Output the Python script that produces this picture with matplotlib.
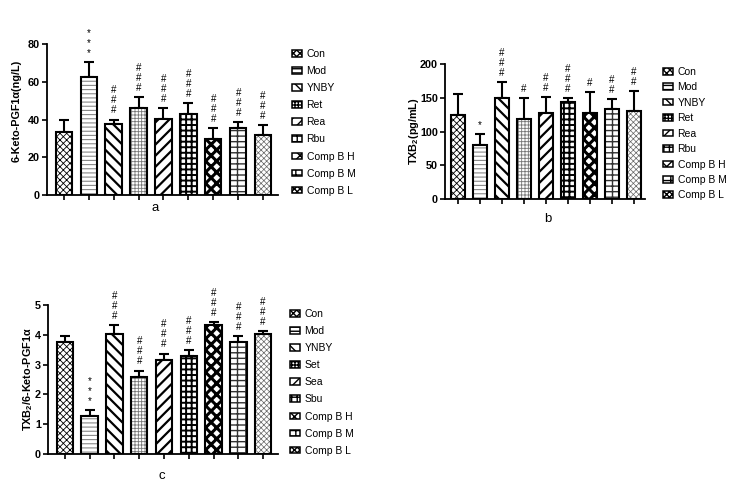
import numpy as np
import matplotlib
matplotlib.use("Agg")
import matplotlib.pyplot as plt
from matplotlib.patches import Patch

plt.rcParams["font.family"] = ["Liberation Sans", "DejaVu Sans"]
plt.rcParams["mathtext.fontset"] = "custom"
plt.rcParams["mathtext.rm"] = "Liberation Sans"
plt.rcParams["mathtext.bf"] = "Liberation Sans:bold"

groups_ab = ["Con", "Mod", "YNBY", "Ret", "Rea", "Rbu", "Comp B H", "Comp B M", "Comp B L"]
groups_c = ["Con", "Mod", "YNBY", "Set", "Sea", "Sbu", "Comp B H", "Comp B M", "Comp B L"]

keto_mean = [33.5, 62.5, 37.5, 46, 40.5, 43, 29.5, 35.5, 32]
keto_sem = [6.5, 8, 2.5, 6, 5.5, 5.5, 6, 3, 5]
keto_marks = ["", "***", "###", "###", "###", "###", "###", "###", "###"]

txb_mean = [125, 80, 150, 119, 128, 143, 127, 133, 130]
txb_sem = [30, 16, 23, 30, 23, 7, 32, 15, 30]
txb_marks = ["", "*", "###", "#", "##", "###", "#", "##", "##"]

ratio_mean = [3.75, 1.28, 4.02, 2.6, 3.17, 3.3, 4.33, 3.75, 4.02]
ratio_sem = [0.21, 0.19, 0.3, 0.2, 0.2, 0.2, 0.1, 0.21, 0.1]
ratio_marks = ["", "***", "###", "###", "###", "###", "###", "###", "###"]

# hatch, hatch colour, hatch line width
styles = [
    ("xxxxx", "black", 0.6),
    ("----", "#888888", 0.8),
    ("\\\\\\", "black", 1.6),
    ("+++++", "#777777", 0.6),
    ("///", "black", 1.6),
    ("+++", "black", 1.4),
    ("xxx", "black", 2.2),
    ("---||", "#333333", 1.0),
    ("xxxxxx", "#666666", 0.5),
]


def hatched(artist, lw):
    if hasattr(artist, "set_hatch_linewidth"):
        artist.set_hatch_linewidth(lw)


def panel(ax, mean, sem, marks, ymax, yticks, ylabel, lab_xy):
    x = np.arange(len(mean))
    w = 0.66
    for i in x:
        h, c, lw = styles[i]
        with plt.rc_context({"hatch.linewidth": lw}):
            b = ax.bar(i, mean[i], w, color="white", edgecolor=c, hatch=h, linewidth=0, zorder=2)
            hatched(b[0], lw)
    ax.bar(x, mean, w, fill=False, edgecolor="black", linewidth=1.5, zorder=3)
    ax.errorbar(x, mean, yerr=[np.zeros(len(mean)), sem], fmt="none", ecolor="black",
                elinewidth=1.5, capsize=3.5, capthick=1.5, zorder=1)
    for i in x:
        if marks[i]:
            ax.annotate("\n".join(marks[i]), (i, mean[i] + sem[i]), xytext=(0, 3),
                        textcoords="offset points", ha="center", va="bottom",
                        fontsize=7, linespacing=1.0)
    ax.set_ylim(0, ymax)
    ax.set_xlim(-0.68, 8.6)
    ax.set_yticks(yticks)
    ax.set_xticks(x)
    ax.set_xticklabels([])
    for s in ["top", "right"]:
        ax.spines[s].set_visible(False)
    for s in ["left", "bottom"]:
        ax.spines[s].set_linewidth(1.3)
    ax.tick_params(width=1.2, length=3.5, labelsize=7.8, pad=1.5)
    for t in ax.get_yticklabels():
        t.set_fontweight("bold")
    ax.set_ylabel(ylabel, fontsize=7.8, fontweight="bold")
    ax.yaxis.set_label_coords(*lab_xy)


def legend(fig, ax, labels, anchor, spacing):
    handles = []
    for (h, c, lw), lab in zip(styles, labels):
        p = Patch(facecolor="white", edgecolor="black", hatch=h, linewidth=1.1, label=lab)
        hatched(p, lw)
        handles.append(p)
    ax.legend(handles=handles, loc="upper left", bbox_to_anchor=anchor,
              bbox_transform=fig.transFigure, frameon=False, fontsize=7.5,
              handlelength=0.95, handleheight=0.6, handletextpad=0.45,
              labelspacing=spacing, borderpad=0, borderaxespad=0)


fig = plt.figure(figsize=(7.45, 4.88), dpi=100)

ax_a = fig.add_axes([47 / 745, 1 - 195 / 488, 231 / 745, 151 / 488])
panel(ax_a, keto_mean, keto_sem, keto_marks, 80, [0, 20, 40, 60, 80],
      "6-Keto-PGF1\u03b1(ng/L)", (-0.112, 0.56))
legend(fig, ax_a, groups_ab, (292 / 745, 1 - 49 / 488), 0.68)
fig.text(155 / 745, 1 - 208 / 488, "a", ha="center", va="center", fontsize=9.5)

ax_b = fig.add_axes([445 / 745, 1 - 199 / 488, 200 / 745, 135 / 488])
panel(ax_b, txb_mean, txb_sem, txb_marks, 200, [0, 50, 100, 150, 200],
      "TXB$_\\mathbf{2}$(pg/mL)", (-0.12, 0.5))
ax_b.set_xlim(-0.59, 8.5)
legend(fig, ax_b, groups_ab, (663 / 745, 1 - 67 / 488), 0.52)
fig.text(548 / 745, 1 - 219 / 488, "b", ha="center", va="center", fontsize=9.5)

ax_c = fig.add_axes([48 / 745, 1 - 454 / 488, 230 / 745, 149 / 488])
panel(ax_c, ratio_mean, ratio_sem, ratio_marks, 5, [0, 1, 2, 3, 4, 5],
      "TXB$_\\mathbf{2}$/6-Keto-PGF1\u03b1", (-0.057, 0.5))
legend(fig, ax_c, groups_c, (290 / 745, 1 - 309 / 488), 0.68)
fig.text(162 / 745, 1 - 476 / 488, "c", ha="center", va="center", fontsize=9.5)

fig.savefig("out.png", dpi=100)
